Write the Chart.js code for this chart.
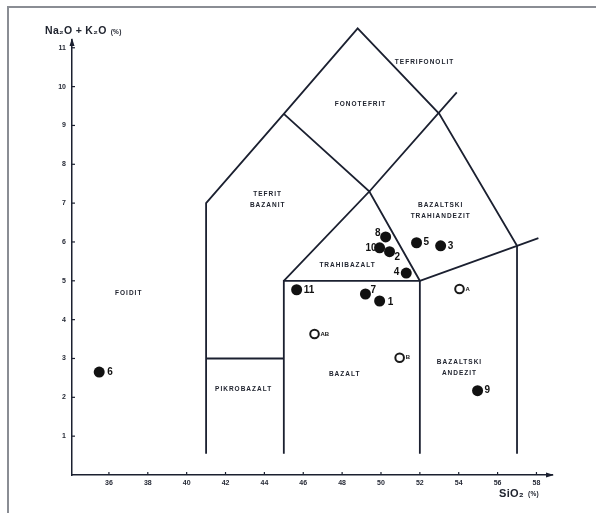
<!DOCTYPE html>
<html><head><meta charset="utf-8">
<script src="https://cdn.jsdelivr.net/npm/chart.js@4/dist/chart.umd.min.js"></script>
<style>html,body{margin:0;padding:0;background:#fff}canvas{display:block}</style>
</head><body><canvas id="c" width="604" height="513"></canvas>
<script>
// Axis tick labels
const xTicks = [36, 38, 40, 42, 44, 46, 48, 50, 52, 54, 56, 58];
const yTicks = [1, 2, 3, 4, 5, 6, 7, 8, 9, 10, 11];

// Analysed samples (filled circles)
const sampleNames  = ['1', '2', '3', '4', '5', '6', '7', '8', '9', '10', '11'];
const sampleSiO2   = [49.93, 50.44, 53.07, 51.30, 51.83, 35.50, 49.20, 50.24, 54.97, 49.93, 45.66];
const sampleAlkali = [4.48, 5.75, 5.90, 5.20, 5.98, 2.65, 4.66, 6.13, 2.17, 5.85, 4.77];

// Reference averages (open circles)
const refNames  = ['A', 'AB', 'B'];
const refSiO2   = [54.04, 46.58, 50.96];
const refAlkali = [4.79, 3.63, 3.02];

// TAS field boundaries, each a polyline of [SiO2, Na2O+K2O]
const outerBoundary  = [[41, 0.55], [41, 7], [45, 9.3], [48.8, 11.5], [53, 9.3], [57, 5.9], [57, 0.55]];
const picroTop       = [[41, 3], [45, 3]];
const basaltBox      = [[45, 0.55], [45, 5], [52, 5], [52, 0.55]];
const trachyLower    = [[45, 5], [49.4, 7.3], [52, 5], [57, 5.9], [58.1, 6.1]];
const tephriteUpper  = [[45, 9.3], [49.4, 7.3], [53.9, 9.85]];
const boundaries = [outerBoundary, picroTop, basaltBox, trachyLower, tephriteUpper];

// Field names and where they sit, in data coordinates
const fieldNames  = ['FOIDIT', 'PIKROBAZALT', 'BAZALT', 'BAZALTSKI\nANDEZIT', 'TRAHIBAZALT',
                     'BAZALTSKI\nTRAHIANDEZIT', 'TEFRIT\nBAZANIT', 'FONOTEFRIT', 'TEFRIFONOLIT'];
const fieldSiO2   = [37.02, 42.93, 48.13, 54.04, 48.28, 53.07, 44.17, 48.95, 52.24];
const fieldAlkali = [4.69, 2.22, 2.60, 2.76, 5.39, 6.80, 7.09, 9.54, 10.62];

const INK = '#1b2030';
const FONT = '"Liberation Sans", Arial, sans-serif';

// label placement beside each marker: [dx, dy, align]
const labelPlacement = {
  '1': [8, 1, 'left'], '2': [5, 6, 'left'], '3': [7, 0, 'left'], '4': [-7, -1, 'right'],
  '5': [7, 0, 'left'], '6': [8, 0, 'left'], '7': [5, -4, 'left'], '8': [-5, -4, 'right'],
  '9': [7, 0, 'left'], '10': [-3, 0, 'right'], '11': [7, 1, 'left'],
  'A': [6, 0, 'left'], 'AB': [6, 0, 'left'], 'B': [6, 0, 'left']
};

const annotate = {
  id: 'annotate',
  afterDraw(chart) {
    const ctx = chart.ctx, xs = chart.scales.x, ys = chart.scales.y;
    const ca = chart.chartArea;
    ctx.save();

    // frame edges
    ctx.strokeStyle = '#8a8d94';
    ctx.lineWidth = 2;
    ctx.beginPath();
    ctx.moveTo(8, 513); ctx.lineTo(8, 7); ctx.lineTo(596, 7);
    ctx.stroke();

    // inward tick marks
    ctx.strokeStyle = INK;
    ctx.lineWidth = 1.2;
    xTicks.forEach(v => {
      const px = xs.getPixelForValue(v);
      ctx.beginPath(); ctx.moveTo(px, ca.bottom); ctx.lineTo(px, ca.bottom - 3); ctx.stroke();
    });
    yTicks.forEach(v => {
      const py = ys.getPixelForValue(v);
      ctx.beginPath(); ctx.moveTo(ca.left, py); ctx.lineTo(ca.left + 3, py); ctx.stroke();
    });

    // arrow heads
    ctx.fillStyle = INK;
    ctx.beginPath();
    ctx.moveTo(ca.left, ca.top - 2); ctx.lineTo(ca.left - 2.5, ca.top + 6); ctx.lineTo(ca.left + 2.5, ca.top + 6);
    ctx.closePath(); ctx.fill();
    ctx.beginPath();
    ctx.moveTo(ca.right + 2, ca.bottom); ctx.lineTo(ca.right - 6, ca.bottom - 2.5); ctx.lineTo(ca.right - 6, ca.bottom + 2.5);
    ctx.closePath(); ctx.fill();

    // axis titles
    ctx.fillStyle = '#20242f';
    ctx.textBaseline = 'alphabetic';
    ctx.textAlign = 'left';
    ctx.font = 'bold 10.5px ' + FONT;
    ctx.letterSpacing = '0.3px';
    ctx.fillText('Na₂O + K₂O', 45, 34);
    let w = ctx.measureText('Na₂O + K₂O').width;
    ctx.font = 'bold 6.5px ' + FONT;
    ctx.fillText('(%)', 45 + w + 4, 34);
    ctx.font = 'bold 11px ' + FONT;
    ctx.fillText('SiO₂', 499, 497);
    w = ctx.measureText('SiO₂').width;
    ctx.font = 'bold 6.5px ' + FONT;
    ctx.fillText('(%)', 499 + w + 4, 496);

    // field names
    ctx.font = 'bold 6.5px ' + FONT;
    ctx.letterSpacing = '1px';
    ctx.textAlign = 'center';
    ctx.textBaseline = 'middle';
    fieldNames.forEach((name, i) => {
      const lines = name.split('\n');
      const cx = xs.getPixelForValue(fieldSiO2[i]);
      const cy = ys.getPixelForValue(fieldAlkali[i]);
      lines.forEach((ln, k) => {
        ctx.fillText(ln, cx, cy + (k - (lines.length - 1) / 2) * 10.5);
      });
    });
    ctx.letterSpacing = '0px';

    // marker labels
    const drawLabels = (names, xv, yv, font) => {
      ctx.font = font;
      names.forEach((n, i) => {
        const p = labelPlacement[n];
        ctx.textAlign = p[2];
        ctx.fillText(n, xs.getPixelForValue(xv[i]) + p[0], ys.getPixelForValue(yv[i]) + p[1]);
      });
    };
    ctx.fillStyle = '#111';
    drawLabels(sampleNames, sampleSiO2, sampleAlkali, 'bold 10px ' + FONT);
    drawLabels(refNames, refSiO2, refAlkali, 'bold 6px ' + FONT);
    ctx.restore();
  }
};

const datasets = [
  {
    label: 'samples',
    data: sampleSiO2.map((x, i) => ({ x, y: sampleAlkali[i] })),
    backgroundColor: '#111', borderColor: '#111',
    pointRadius: 5.5, pointBorderWidth: 0, showLine: false, order: 0
  },
  {
    label: 'reference',
    data: refSiO2.map((x, i) => ({ x, y: refAlkali[i] })),
    backgroundColor: '#fff', borderColor: '#1a1a1a',
    pointRadius: 4.3, pointBorderWidth: 2, showLine: false, order: 0
  }
].concat(boundaries.map((line, i) => ({
  label: 'boundary' + i,
  data: line.map(p => ({ x: p[0], y: p[1] })),
  showLine: true, borderColor: INK, borderWidth: 1.8,
  pointRadius: 0, fill: false, tension: 0, order: 1, clip: false
})));

const tickFont = { family: FONT, size: 7, weight: 'bold' };

new Chart(document.getElementById('c'), {
  type: 'scatter',
  data: { datasets },
  options: {
    responsive: false, animation: false, devicePixelRatio: 1,
    layout: { padding: { left: 0, top: 40, right: 52, bottom: 0 } },
    plugins: { legend: { display: false }, tooltip: { enabled: false } },
    scales: {
      x: {
        type: 'linear', min: 34.1, max: 58.8,
        afterBuildTicks: s => { s.ticks = xTicks.map(v => ({ value: v })); },
        afterFit: s => { s.height = 38; },
        grid: { display: false, drawTicks: false },
        border: { display: true, color: INK, width: 1.5 },
        ticks: { font: tickFont, color: '#262a36', padding: 4, maxRotation: 0, autoSkip: false }
      },
      y: {
        type: 'linear', min: 0, max: 11.2,
        afterBuildTicks: s => { s.ticks = yTicks.map(v => ({ value: v })); },
        afterFit: s => { s.width = 72; },
        grid: { display: false, drawTicks: false },
        border: { display: true, color: INK, width: 1.5 },
        ticks: { font: tickFont, color: '#262a36', padding: 6, autoSkip: false }
      }
    }
  },
  plugins: [annotate]
});
</script>
</body></html>
